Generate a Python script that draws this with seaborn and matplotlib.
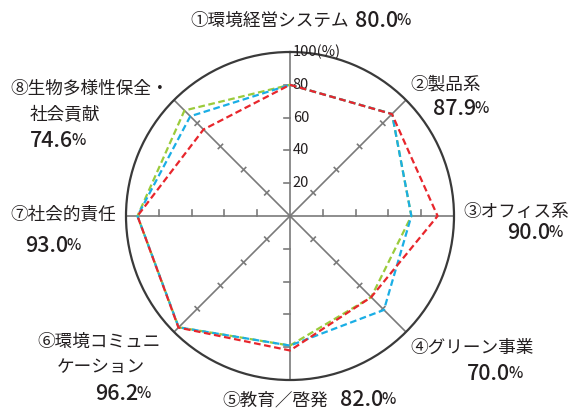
"""
Radar chart — 環境活動 評価結果 (8 categories, 3 series).
"""

import numpy as np
import pandas as pd
import matplotlib
matplotlib.use("Agg")
import matplotlib.pyplot as plt
import seaborn as sns

# ────────────────────────────────────────────────────────────────────
#  Data
# ────────────────────────────────────────────────────────────────────

categories = ["①環境経営システム", "②製品系", "③オフィス系", "④グリーン事業",
              "⑤教育／啓発", "⑥環境コミュニケーション", "⑦社会的責任",
              "⑧生物多様性保全・社会貢献"]
series_names = ["green", "blue", "red"]
green_vals = [80.0, 88.0, 74.0, 70.0, 79.0, 96.0, 93.0, 91.0]
blue_vals = [80.0, 88.0, 74.0, 81.0, 79.0, 96.0, 93.0, 86.0]
red_vals = [80.0, 87.9, 90.0, 70.0, 82.0, 96.2, 93.0, 74.6]
tick_values = [20, 40, 60, 80]
score_labels = ["80.0", "87.9", "90.0", "70.0", "82.0", "96.2", "93.0", "74.6"]

colors = {"green": "#9BCB3B", "blue": "#1AAEE5", "red": "#E8262C"}
TEXT = "#231F20"
AX_C = "#7a7a7a"

W, H = 570, 412
plt.rcParams["font.family"] = ["Noto Sans CJK JP", "DejaVu Sans"]

# ────────────────────────────────────────────────────────────────────
#  Long table (closed polygons: first point repeated at 2π)
# ────────────────────────────────────────────────────────────────────

n = len(categories)
theta = np.arange(n) * 2 * np.pi / n
theta_closed = np.append(theta, 2 * np.pi)
frames = []
for name, vals in zip(series_names, [green_vals, blue_vals, red_vals]):
    frames.append(pd.DataFrame({"series": name, "theta": theta_closed,
                                "value": vals + vals[:1]}))
df = pd.concat(frames, ignore_index=True)

fig = plt.figure(figsize=(W / 100, H / 100), dpi=100)
cx, cy, R = 290, 216, 164
ax = fig.add_axes([(cx - R) / W, (H - cy - R) / H, 2 * R / W, 2 * R / H],
                  projection="polar")
ax.set_theta_zero_location("N")
ax.set_theta_direction(-1)
ax.grid(False)
ax.spines["polar"].set_color("#3a3a3a")
ax.spines["polar"].set_linewidth(1.6)

# radial axes
for t in theta:
    ax.plot([t, t], [0, 100], color=AX_C, lw=1.2, zorder=1)

# tick marks: +1 / -1 = one side, 0 = both sides
tick_side = [-1, 0, -1, 0, 1, 0, 1, 0]
L = 3.6
for t, side in zip(theta, tick_side):
    for r in tick_values:
        a0, a1 = (-L / 2, L / 2) if side == 0 else (0, side * L)
        ax.plot([t + np.arctan2(a0, r), t + np.arctan2(a1, r)],
                [np.hypot(r, a0), np.hypot(r, a1)], color=AX_C, lw=1.2, zorder=1)
# cap on top of vertical axis
ax.plot([-np.arctan2(3, 100), np.arctan2(3, 100)],
        [np.hypot(100, 3), np.hypot(100, 3)], color=AX_C, lw=1.2, zorder=1)

# scale labels
for r in tick_values:
    ax.annotate(str(r), xy=(0, r), xytext=(2, 0), textcoords="offset points",
                ha="left", va="center", fontsize=10.5, color=TEXT, zorder=5)
ax.annotate("100(%)", xy=(0, 100), xytext=(2, 0), textcoords="offset points",
            ha="left", va="center", fontsize=10.5, color=TEXT, zorder=5,
            annotation_clip=False)

# series
for z, name in enumerate(series_names):
    sns.lineplot(data=df[df["series"] == name], x="theta", y="value",
                 sort=False, ax=ax, color=colors[name], lw=1.6,
                 linestyle=(0, (3, 1.6)), zorder=3 + z, legend=False)
ax.set_xlabel("")
ax.set_ylabel("")
ax.set_xticks([])
ax.set_yticks([])
ax.set_ylim(0, 100)


# ────────────────────────────────────────────────────────────────────
#  Category labels
# ────────────────────────────────────────────────────────────────────

def ftext(x, y, s, **kw):
    kw.setdefault("fontsize", 12.7)
    kw.setdefault("color", TEXT)
    kw.setdefault("va", "center")
    return fig.text(x / W, 1 - y / H, s, **kw)


def score(x, y, s):
    t = ftext(x, y, s, fontsize=15.5, fontweight="medium")
    ax.annotate("%", xy=(1, 0.12), xycoords=t, xytext=(-1, 0),
                textcoords="offset points", ha="left", va="bottom",
                fontsize=11, color=TEXT, fontweight="medium",
                annotation_clip=False)
    return t


ftext(190, 21, "①環境経営システム")
score(355, 21, score_labels[0])
ftext(410, 84, "②製品系")
score(433, 109, score_labels[1])
ftext(463, 212, "③オフィス系")
score(507, 233, score_labels[2])
ftext(410, 348, "④グリーン事業")
score(467, 374, score_labels[3])
ftext(222, 400, "⑤教育／啓発")
score(340, 400, score_labels[4])
ftext(37, 342, "⑥環境コミュニ")
ftext(57, 367, "ケーション")
score(95, 394, score_labels[5])
ftext(10, 215, "⑦社会的責任")
score(25, 246, score_labels[6])
ftext(10, 89, "⑧生物多様性保全・")
ftext(30, 114, "社会貢献")
score(30, 141, score_labels[7])

fig.savefig("out.png", dpi=100)
